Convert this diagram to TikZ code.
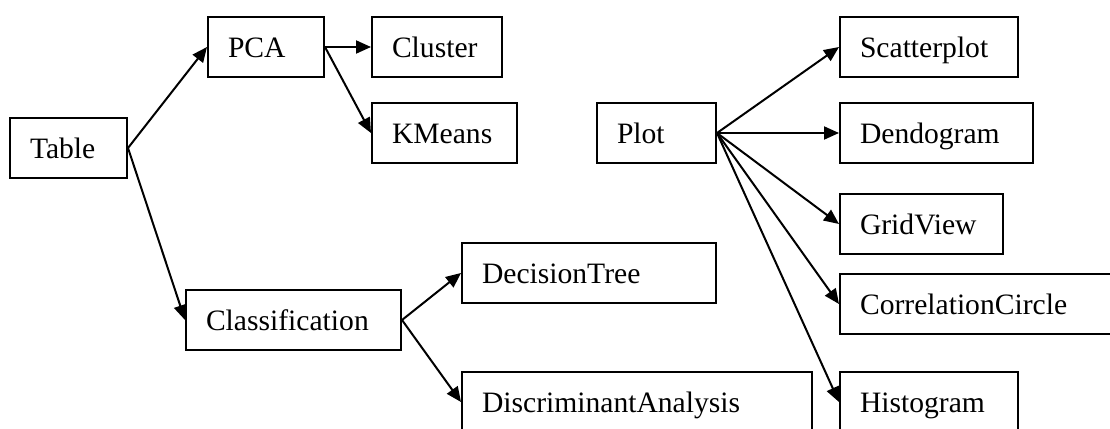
\documentclass[tikz,border=0pt]{standalone}
\usepackage{fontspec}
\setmainfont{Liberation Serif}
\usetikzlibrary{arrows.meta}
\begin{document}
\begin{tikzpicture}[x=1pt,y=-1pt,
  box/.style={draw, line width=2pt, anchor=north west, minimum height=60pt,
    inner xsep=20pt, inner ysep=0pt, text height=20pt, text depth=0pt, align=left,
    font=\fontsize{29.6pt}{32pt}\selectfont},
  conn/.style={line width=2pt, -{Triangle[length=15pt,width=13pt]}}]
\useasboundingbox (0,0) rectangle (1110,428);
\clip (0,0) rectangle (1110,428);
\node[box, text width=77pt]  (table) at (9,117)   {Table};
\node[box, text width=76pt]  (pca)   at (207,16)  {PCA};
\node[box, text width=90pt]  (clus)  at (371,16)  {Cluster};
\node[box, text width=105pt] (km)    at (371,102) {KMeans};
\node[box, text width=175pt] (cls)   at (185,289) {Classification};
\node[box, text width=214pt] (dt)    at (461,242) {DecisionTree};
\node[box, text width=310pt] (da)    at (461,371) {DiscriminantAnalysis};
\node[box, text width=79pt]  (plot)  at (596,102) {Plot};
\node[box, text width=138pt] (sc)    at (839,16)  {Scatterplot};
\node[box, text width=153pt] (den)   at (839,102) {Dendogram};
\node[box, text width=123pt] (gv)    at (839,193) {GridView};
\node[box, text width=250pt] (cc)    at (839,273) {CorrelationCircle};
\node[box, text width=138pt] (hist)  at (839,371) {Histogram};
\draw[conn] (table.east) -- (pca.west);
\draw[conn] (table.east) -- (cls.west);
\draw[conn] (pca.east) -- (clus.west);
\draw[conn] (pca.east) -- (km.west);
\draw[conn] (cls.east) -- (dt.west);
\draw[conn] (cls.east) -- (da.west);
\draw[conn] (plot.east) -- (sc.west);
\draw[conn] (plot.east) -- (den.west);
\draw[conn] (plot.east) -- (gv.west);
\draw[conn] (plot.east) -- (cc.west);
\draw[conn] (plot.east) -- (hist.west);
\end{tikzpicture}
\end{document}
